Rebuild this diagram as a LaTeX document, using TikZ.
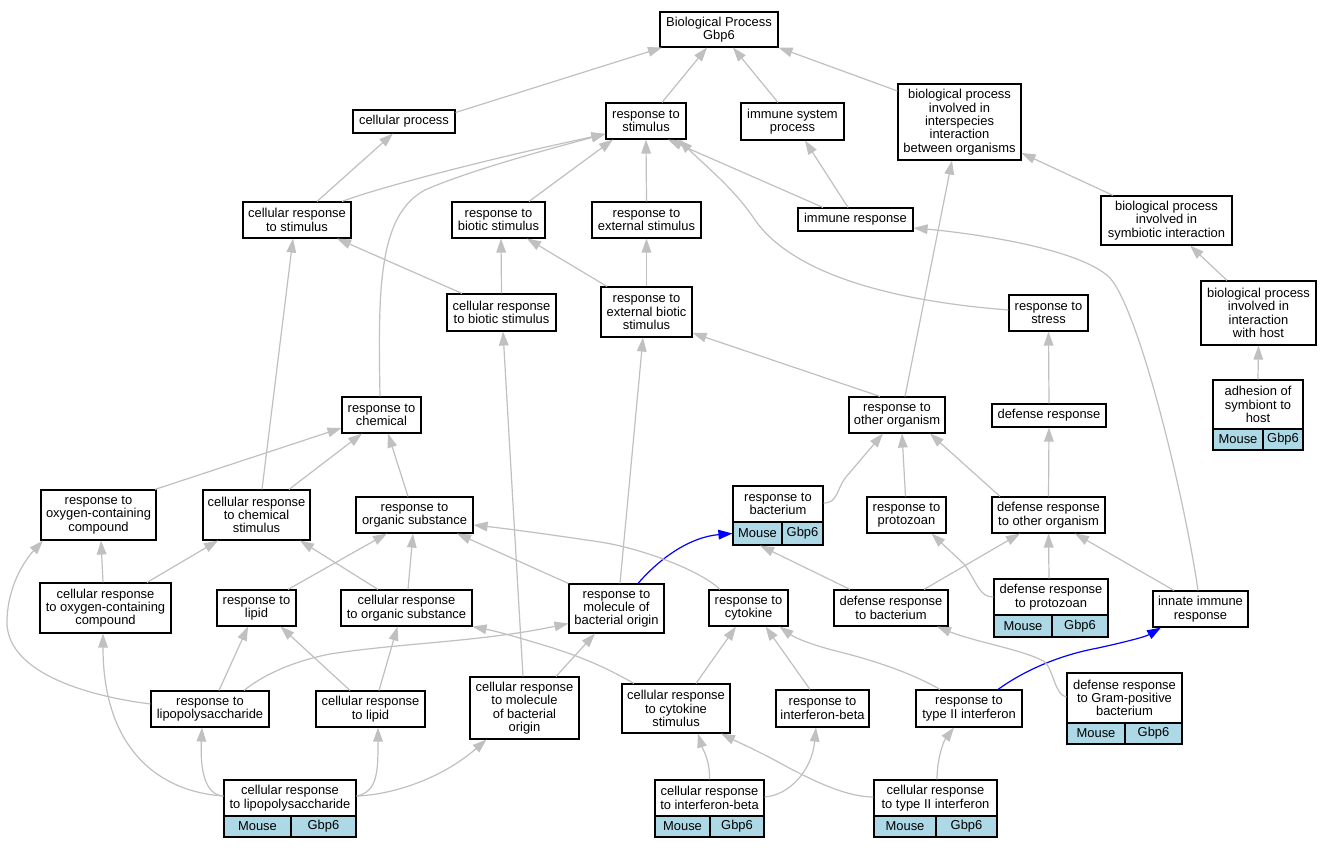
\documentclass[tikz,border=0pt]{standalone}
\usepackage{fontspec}
\setmainfont{Liberation Sans}
\usetikzlibrary{arrows.meta,fit}
\definecolor{edgegray}{RGB}{192,192,192}
\definecolor{genefill}{RGB}{173,216,230}
\tikzset{
  gobox/.style={draw=black, line width=0.85pt, fill=white, inner sep=0pt},
  cellbox/.style={draw=black, line width=0.85pt, fill=genefill, inner sep=0pt},
  gotext/.style={inner sep=0pt, align=center, font=\fontsize{9.7}{10}\selectfont},
  e/.style={draw=edgegray, line width=0.9pt, -{Triangle[length=10.5pt,width=7.2pt]}},
  be/.style={draw=blue, line width=0.9pt, -{Triangle[length=10.5pt,width=7.2pt]}},
  sh/.style 2 args={shift={(#1,#2)}}
}
% name, x1, y1, x2, y2, text
\newcommand{\gonode}[6]{%
  \node[gobox, fit={(#2,#3) (#4,#5)}] (#1) {};
  \node[gotext] (#1-t) at (#1.center) {#6};
}
% name, x1, y1, x2, ysplit, y2, xdiv, text
\newcommand{\genenode}[8]{%
  \node[gobox, fit={(#2,#3) (#4,#6)}] (#1) {};
  \node[cellbox, fit={(#2,#5) (#7,#6)}] (#1-m) {};
  \node[cellbox, fit={(#7,#5) (#4,#6)}] (#1-g) {};
  \node[gotext] (#1-t) at ({(#2+#4)/2},{(#3+#5)/2}) {#8};
  \node[gotext] (#1-mt) at (#1-m.center) {Mouse};
  \node[gotext] (#1-gt) at (#1-g.center) {Gbp6};
}
\begin{document}
\begin{tikzpicture}[x=0.75pt,y=-0.75pt]
\useasboundingbox (0,0) rectangle (1332,848);
\fill[white] (0,0) rectangle (1332,848);

% ---------- nodes ----------
\gonode{BP}{660}{12}{778}{47}{Biological Process\\Gbp6}
\gonode{cp}{353}{110}{455}{133}{cellular process}
\gonode{rts}{606}{103}{686}{139}{response to\\stimulus}
\gonode{isp}{741}{103}{844}{140}{immune system\\process}
\gonode{bpis}{898}{84}{1021}{160}{biological process\\involved in\\interspecies\\interaction\\between organisms}
\gonode{crts}{243}{202}{351}{238}{cellular response\\to stimulus}
\gonode{rtbs}{452}{202}{545}{238}{response to\\biotic stimulus}
\gonode{rtes}{592}{202}{701}{238}{response to\\external stimulus}
\gonode{ir}{798}{208}{913}{231}{immune response}
\gonode{bpsym}{1101}{196}{1232}{245}{biological process\\involved in\\symbiotic interaction}
\gonode{crbs}{447}{294}{556}{331}{cellular response\\to biotic stimulus}
\gonode{rtebs}{601}{287}{692}{337}{response to\\external biotic\\stimulus}
\gonode{rtstress}{1009}{295}{1088}{331}{response to\\stress}
\gonode{bpih}{1201}{281}{1316}{345}{biological process\\involved in\\interaction\\with host}
\gonode{rtc}{342}{397}{421}{433}{response to\\chemical}
\gonode{rtoo}{849}{397}{945}{433}{response to\\other organism}
\gonode{dr}{992}{404}{1106}{427}{defense response}
\gonode{rtocc}{41}{490}{156}{540}{response to\\oxygen-containing\\compound}
\gonode{crcs}{203}{490}{310}{540}{cellular response\\to chemical\\stimulus}
\gonode{rtos}{356}{497}{473}{533}{response to\\organic substance}
\gonode{rtp}{867}{497}{946}{533}{response to\\protozoan}
\gonode{drtoo}{992}{497}{1105}{533}{defense response\\to other organism}
\gonode{crocc}{40}{583}{171}{633}{cellular response\\to oxygen-containing\\compound}
\gonode{rtl}{217}{590}{296}{626}{response to\\lipid}
\gonode{cros}{341}{590}{472}{626}{cellular response\\to organic substance}
\gonode{rtmbo}{569}{584}{664}{633}{response to\\molecule of\\bacterial origin}
\gonode{rtcy}{709}{590}{788}{626}{response to\\cytokine}
\gonode{drtb}{834}{590}{948}{626}{defense response\\to bacterium}
\gonode{iir}{1153}{591}{1248}{627}{innate immune\\response}
\gonode{rtlps}{151}{691}{269}{727}{response to\\lipopolysaccharide}
\gonode{crl}{316}{691}{425}{727}{cellular response\\to lipid}
\gonode{crmbo}{470}{677}{579}{739}{cellular response\\to molecule\\of bacterial\\origin}
\gonode{crcys}{622}{684}{730}{733}{cellular response\\to cytokine\\stimulus}
\gonode{rtib}{776}{690}{869}{727}{response to\\interferon-beta}
\gonode{rt2}{916}{690}{1022}{727}{response to\\type II interferon}

\genenode{adh}{1213}{380}{1303}{429}{450}{1263}{adhesion of\\symbiont to\\host}
\genenode{rtb}{733}{486}{823}{522}{545}{782}{response to\\bacterium}
\genenode{drtp}{994}{579}{1108}{615}{637}{1052}{defense response\\to protozoan}
\genenode{drgp}{1067}{673}{1182}{723}{744}{1125}{defense response\\to Gram-positive\\bacterium}
\genenode{crlps}{224}{780}{356}{816}{837}{291}{cellular response\\to lipopolysaccharide}
\genenode{crib}{655}{780}{764}{816}{837}{710}{cellular response\\to interferon-beta}
\genenode{cr2}{874}{780}{997}{816}{837}{936}{cellular response\\to type II interferon}

% ---------- edges ----------
\draw[e] ([sh={0}{-9}]cp.east) -- ([sh={-57}{0}]BP.south);
\draw[e] ([sh={16}{0}]rts.north) -- ([sh={-12}{0}]BP.south);
\draw[e] ([sh={-14.5}{0}]isp.north) -- ([sh={14}{0}]BP.south);
\draw[e] ([sh={0}{-31}]bpis.west) -- (BP.south east);
\draw[e] ([sh={20}{0}]crts.north) -- ([sh={-11}{0}]cp.south);
\draw[e] ([sh={45}{0}]crts.north) .. controls (372,190) and (470,163) .. ([sh={0}{13}]rts.west);
\draw[e] ([sh={-1.5}{0}]rtc.north) .. controls (378,290) and (378,215) .. (425,190) .. controls (470,170) and (560,146) .. ([sh={0}{13}]rts.west);
\draw[e] ([sh={30.5}{0}]rtbs.north) -- ([sh={-33}{0}]rts.south);
\draw[e] (rtes.north) -- (rts.south);
\draw[e] ([sh={-32.5}{0}]ir.north) -- ([sh={22}{0}]rts.south);
\draw[e] ([sh={0}{-3}]rtstress.west) .. controls (880,300) and (790,270) .. (755,220) .. controls (735,190) and (710,170) .. ([sh={-8}{0}]rts.south east);
\draw[e] ([sh={-7.5}{0}]ir.north) -- ([sh={12.5}{0}]isp.south);
\draw[e] ([sh={-39.5}{0}]crbs.north) -- ([sh={40}{0}]crts.south);
\draw[e] (crbs.north) -- ([sh={2.5}{0}]rtbs.south);
\draw[e] ([sh={-39.5}{0}]rtebs.north) -- ([sh={28.5}{0}]rtbs.south);
\draw[e] (rtebs.north) -- (rtes.south);
\draw[e] ([sh={-17}{0}]rtoo.north) -- ([sh={0}{21}]rtebs.east);
\draw[e] ([sh={8}{0}]rtoo.north) -- ([sh={-7.5}{0}]bpis.south);
\draw[e] ([sh={-53.5}{0}]bpsym.north) -- ([sh={0}{31}]bpis.east);
\draw[e] ([sh={-31.5}{0}]bpih.north) -- ([sh={23.5}{0}]bpsym.south);
\draw[e] (adh.north) -- (bpih.south);
\draw[e] ([sh={-2.5}{0}]iir.north) .. controls (1185,500) and (1140,312) .. (1110,278) .. controls (1080,248) and (970,233) .. ([sh={0}{8.5}]ir.east);
\draw[e] (dr.north) -- (rtstress.south);
\draw[e] ([sh={5.5}{0}]crcs.north) -- ([sh={-4}{0}]crts.south);
\draw[e] ([sh={56.5}{0}]rtocc.north) -- ([sh={0}{13}]rtc.west);
\draw[e] ([sh={32.5}{0}]crcs.north) -- ([sh={-19.5}{0}]rtc.south);
\draw[e] ([sh={-6.5}{0}]rtos.north) -- ([sh={6.5}{0}]rtc.south);
\draw[e] ([sh={-1.5}{0}]crmbo.north) -- ([sh={1.5}{0}]crbs.south);
\draw[e] ([sh={3.5}{0}]rtmbo.north) -- ([sh={-3.5}{0}]rtebs.south);
\draw[e] ([sh={0}{-12.5}]rtb.east) .. controls (838,503) and (836,490) .. (846,477) -- ([sh={-14}{0}]rtoo.south);
\draw[e] ([sh={-1}{0}]rtp.north) -- ([sh={5}{0}]rtoo.south);
\draw[e] ([sh={-48.5}{0}]drtoo.north) -- ([sh={33}{0}]rtoo.south);
\draw[e] (drtoo.north) -- (dr.south);
\draw[be] ([sh={21.5}{0}]rtmbo.north) .. controls (660,558) and (690,537) .. (rtb-m.west);
\draw[e] ([sh={-2.5}{0}]crocc.north) -- ([sh={2.5}{0}]rtocc.south);
\draw[e] ([sh={41.5}{0}]crocc.north) -- ([sh={-38.5}{0}]crcs.south);
\draw[e] ([sh={31.5}{0}]rtl.north) -- ([sh={-27.5}{0}]rtos.south);
\draw[e] ([sh={-28.5}{0}]cros.north) -- ([sh={43.5}{0}]crcs.south);
\draw[e] ([sh={1.5}{0}]cros.north) -- ([sh={-1.5}{0}]rtos.south);
\draw[e] (rtmbo.north west) -- ([sh={42.5}{0}]rtos.south);
\draw[e] ([sh={-28.5}{0}]rtcy.north) .. controls (700,570) and (640,548) .. (600,542) .. controls (560,536) and (510,529) .. ([sh={0}{10}]rtos.east);
\draw[e] ([sh={-41}{0}]drtb.north) -- ([sh={-18}{0}]rtb.south);
\draw[e] ([sh={33}{0}]drtb.north) -- ([sh={-28.5}{0}]drtoo.south);
\draw[e] ([sh={0}{-11}]drtp.west) .. controls (980,597) and (978,585) .. (965,565) -- ([sh={25}{0}]rtp.south);
\draw[e] ([sh={-2}{0}]drtp.north) -- (drtoo.south);
\draw[e] ([sh={-26.5}{0}]iir.north) -- ([sh={26.5}{0}]drtoo.south);
\draw[e] ([sh={9}{0}]rtlps.north) -- ([sh={-8.5}{0}]rtl.south);
\draw[e] ([sh={0}{-5}]rtlps.west) .. controls (80,695) and (5,670) .. (7,620) .. controls (8,585) and (25,560) .. ([sh={-55.5}{0}]rtocc.south);
\draw[e] ([sh={34}{0}]rtlps.north) .. controls (262,676) and (290,662) .. (330,654) .. controls (400,643) and (480,642) .. ([sh={0}{15}]rtmbo.west);
\draw[e] ([sh={-20.5}{0}]crl.north) -- ([sh={24}{0}]rtl.south);
\draw[e] ([sh={8.5}{0}]crl.north) -- ([sh={-9}{0}]cros.south);
\draw[e] ([sh={31.5}{0}]crmbo.north) -- ([sh={-21.5}{0}]rtmbo.south);
\draw[e] ([sh={20}{0}]crcys.north) -- ([sh={-12.5}{0}]rtcy.south);
\draw[e] ([sh={-42}{0}]crcys.north) .. controls (610,670) and (590,660) .. (553,648) .. controls (530,641) and (500,632) .. (cros.south east);
\draw[e] ([sh={-12.5}{0}]rtib.north) -- ([sh={17}{0}]rtcy.south);
\draw[e] ([sh={-29}{0}]rt2.north) .. controls (915,675) and (880,662) .. (840,652) .. controls (815,646) and (795,638) .. ([sh={31}{0}]rtcy.south);
\draw[be] ([sh={29}{0}]rt2.north) .. controls (1025,670) and (1060,655) .. (1098,648) .. controls (1125,642) and (1145,637) .. ([sh={-39.5}{0}]iir.south);
\draw[e] ([sh={0}{-11.5}]drgp.west) .. controls (1055,695) and (1054,672) .. (1045,662) .. controls (1025,650) and (975,642) .. ([sh={46}{0}]drtb.south);
\draw[e] (crib.north) .. controls (710,760) and (703,750) .. ([sh={22}{0}]crcys.south);
\draw[e] ([sh={0}{-11.5}]crib.east) .. controls (790,795) and (812,770) .. ([sh={-6.5}{0}]rtib.south);
\draw[e] ([sh={0}{-11.5}]cr2.west) .. controls (850,797) and (820,785) .. (780,763) .. controls (760,752) and (740,743) .. ([sh={45}{0}]crcys.south);
\draw[e] ([sh={1.5}{0}]cr2.north) .. controls (937,760) and (943,742) .. ([sh={-15}{0}]rt2.south);
\draw[e] ([sh={0}{-12.5}]crlps.west) .. controls (205,795) and (200,770) .. ([sh={-8}{0}]rtlps.south);
\draw[e] ([sh={0}{-12.5}]crlps.east) .. controls (378,792) and (378,770) .. ([sh={7.5}{0}]crl.south);
\draw[e] ([sh={0}{-12.5}]crlps.east) .. controls (390,795) and (440,780) .. ([sh={-38}{0}]crmbo.south);
\draw[e] ([sh={0}{-12.5}]crlps.west) .. controls (160,792) and (103,750) .. ([sh={-2.5}{0}]crocc.south);
\end{tikzpicture}
\end{document}
